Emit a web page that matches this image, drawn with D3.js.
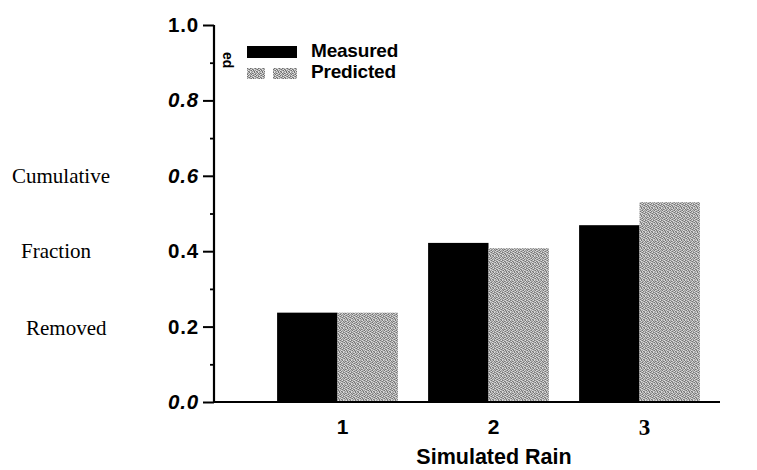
<!DOCTYPE html>
<html><head><meta charset="utf-8">
<script src="https://cdn.jsdelivr.net/npm/d3@7"></script>
<style>body{margin:0;background:#fff}svg{display:block}</style>
</head><body>
<svg id="c" width="757" height="470"></svg>
<script>
const categories = ["1", "2", "3"];
const seriesNames = ["Measured", "Predicted"];
const measured = [0.237, 0.422, 0.469];
const predicted = [0.237, 0.408, 0.530];
const yTicks = [0, 0.2, 0.4, 0.6, 0.8, 1.0];
const yTickLabels = ["0.0", "0.2", "0.4", "0.6", "0.8", "1.0"];
const yMinorTicks = [0.1, 0.3, 0.5, 0.7, 0.9];
const yTitleLines = ["Cumulative", "Fraction", "Removed"];
const xTitle = "Simulated Rain";

const svg = d3.select("#c");
const sans = "'Liberation Sans', Arial, sans-serif";
const serif = "'Liberation Serif', 'Times New Roman', serif";

// speckled gray (halftone) pattern
const defs = svg.append("defs");
const grid = ["20312302","13020131","31203210","02131023","23012310","10230132","32103021","01321203"];
const shades = ["#707070","#979797","#bdbdbd","#e2e2e2"];
const pat = defs.append("pattern").attr("id","dots").attr("patternUnits","userSpaceOnUse")
  .attr("width",8).attr("height",8);
grid.forEach((row,r)=>row.split("").forEach((ch,c)=>pat.append("rect")
  .attr("x",c).attr("y",r).attr("width",1).attr("height",1).attr("fill",shades[+ch])));

const y = d3.scaleLinear().domain([0,1]).range([402,25]);
const x0 = d3.scaleBand().domain(categories).range([262,715]).paddingInner(0.2).paddingOuter(0.1);
const x1 = d3.scaleBand().domain(seriesNames).range([0,x0.bandwidth()]);
const fills = {Measured:"#000", Predicted:"url(#dots)"};

const data = categories.map((c,i)=>({cat:c, vals:[{s:"Measured",v:measured[i]},{s:"Predicted",v:predicted[i]}]}));

const g = svg.append("g");
g.selectAll("g.cat").data(data).join("g").attr("class","cat")
  .attr("transform",d=>`translate(${x0(d.cat)},0)`)
  .selectAll("rect").data(d=>d.vals).join("rect")
  .attr("x",d=>x1(d.s)).attr("width",x1.bandwidth())
  .attr("y",d=>y(d.v)).attr("height",d=>y(0)-y(d.v))
  .attr("fill",d=>fills[d.s]);

// y axis
const yAxis = d3.axisLeft(y).tickValues(yTicks).tickSize(11).tickPadding(4)
  .tickFormat((d,i)=>yTickLabels[i]);
const ya = svg.append("g").attr("transform","translate(214,0)").call(yAxis);
ya.select(".domain").attr("stroke","#000").attr("stroke-width",2.2).attr("d",`M0,${y(1)}V${y(0)}`);
ya.selectAll(".tick line").attr("stroke-width",2);
ya.selectAll(".tick text").attr("font-family",sans).attr("font-weight","bold").attr("font-size",20.5)
  .attr("letter-spacing",0.8).attr("fill","#000")
  .attr("font-style",(d,i)=>[0,3,4].includes(i)?"italic":"normal");
const yMinor = d3.axisLeft(y).tickValues(yMinorTicks).tickSize(4).tickFormat("");
const ym = svg.append("g").attr("transform","translate(214,0)").call(yMinor);
ym.select(".domain").remove();
ym.selectAll(".tick line").attr("stroke-width",1.8);

// x axis
const xAxis = d3.axisBottom(x0).tickSize(0).tickPadding(17);
const xa = svg.append("g").attr("transform",`translate(0,${y(0)})`).call(xAxis);
xa.select(".domain").attr("stroke-width",2.2).attr("d","M214,0H720");
xa.selectAll(".tick text").attr("font-size",(d,i)=>i===2?23:21).attr("font-weight","bold").attr("fill","#000")
  .attr("dx",5)
  .attr("font-family",(d,i)=>i===2?serif:sans);

// titles
svg.append("text").attr("x",494).attr("y",464).attr("text-anchor","middle")
  .attr("font-family",sans).attr("font-weight","bold").attr("font-size",21.5).text(xTitle);
const yTitleX = [12,21,26], yTitleY = [183,258,335];
yTitleLines.forEach((t,i)=>svg.append("text").attr("x",yTitleX[i]).attr("y",yTitleY[i])
  .attr("font-family",serif).attr("font-size",21).text(t));
svg.append("text").attr("transform","translate(223,52) rotate(90)")
  .attr("font-family",sans).attr("font-weight","bold").attr("font-size",14).text("ed");

// legend
const lg = svg.append("g");
lg.append("rect").attr("x",247).attr("y",46).attr("width",50).attr("height",12).attr("fill",fills.Measured);
lg.append("rect").attr("x",247).attr("y",68).attr("width",18).attr("height",11).attr("fill",fills.Predicted);
lg.append("rect").attr("x",273).attr("y",68).attr("width",24).attr("height",11).attr("fill",fills.Predicted);
seriesNames.forEach((s,i)=>lg.append("text").attr("x",311).attr("y",[57,78][i])
  .attr("font-family",sans).attr("font-weight","bold").attr("font-size",19).attr("letter-spacing",-0.2).text(s));
</script>
</body></html>
